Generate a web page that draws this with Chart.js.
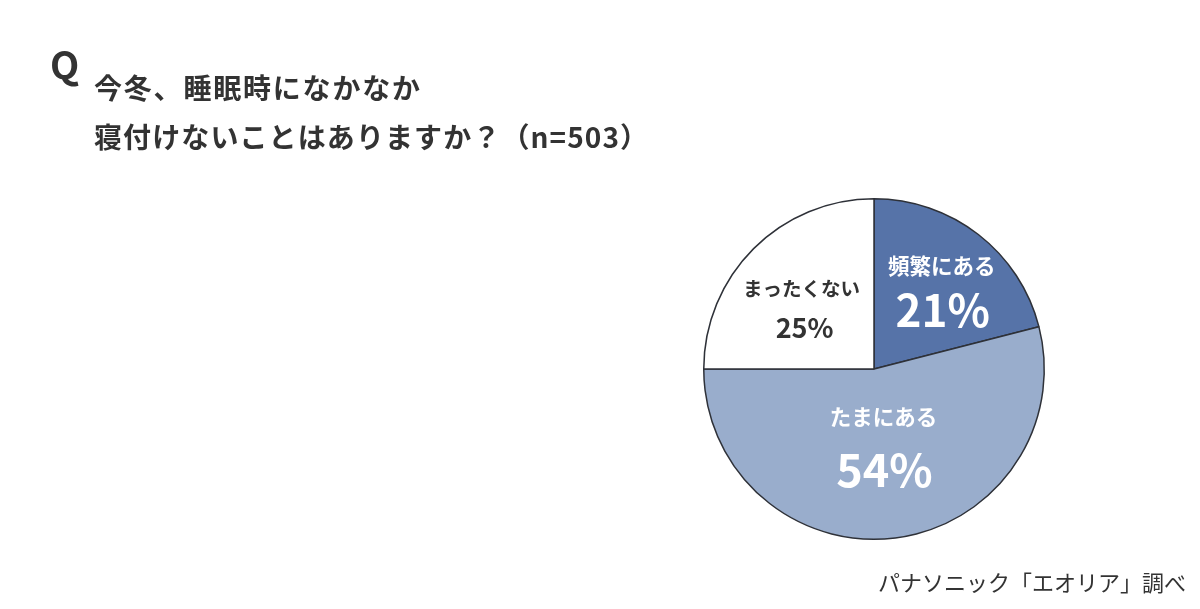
<!DOCTYPE html>
<html lang="ja">
<head>
<meta charset="utf-8">
<script src="https://cdn.jsdelivr.net/npm/chart.js@4.4.0/dist/chart.umd.min.js"></script>
<style>
  html, body { margin: 0; padding: 0; background: #fff; }
  body { width: 1200px; height: 609px; position: relative; overflow: hidden;
         font-family: "Noto Sans CJK JP", "Noto Sans", sans-serif; color: #333; }
  #q { position: absolute; left: 50px; top: 44px; font-size: 38px; font-weight: 700; line-height: 1; }
  .title { position: absolute; left: 94px; font-size: 28px; font-weight: 700; line-height: 1; }
  #t1 { top: 73px; letter-spacing: 1.8px; }
  #t2 { top: 122px; letter-spacing: 1.1px; }
  #source { position: absolute; right: 14px; top: 570px; font-size: 22px; line-height: 1; }
  #chartWrap { position: absolute; left: 0; top: 0; width: 1200px; height: 609px; }
</style>
</head>
<body>
<div id="chartWrap"><canvas id="pieChart" width="1200" height="609"></canvas></div>
<div id="q">Q</div>
<div class="title" id="t1">今冬、睡眠時になかなか</div>
<div class="title" id="t2">寝付けないことはありますか？（n=503）</div>
<div id="source">パナソニック「エオリア」調べ</div>

<script>
// 回答の割合 (%)
const categories = ['頻繁にある', 'たまにある', 'まったくない'];
const values = [21, 54, 25];
const sliceColors = ['#5673a8', '#99adcc', '#ffffff'];

// スライスの中にラベルを描く
const sliceLabels = {
    id: 'sliceLabels',
    afterDatasetsDraw(chart, args, opts) {
        const ctx = chart.ctx;
        const arcs = chart.getDatasetMeta(0).data;
        arcs.forEach((arc, i) => {
            const p = arc.getProps(['x', 'y', 'startAngle', 'endAngle', 'outerRadius']);
            const mid = (p.startAngle + p.endAngle) / 2;
            const r = p.outerRadius * opts.radius[i];
            const cx = p.x + Math.cos(mid) * r + opts.dx[i];
            const cy = p.y + Math.sin(mid) * r + opts.dy[i];
            ctx.save();
            ctx.textAlign = 'center';
            ctx.textBaseline = 'middle';
            ctx.fillStyle = opts.color[i];
            ctx.font = '700 ' + opts.nameSize[i] + 'px "Noto Sans CJK JP"';
            ctx.fillText(categories[i], cx + opts.nameDx[i], cy - opts.gap[i] / 2);
            ctx.font = '700 ' + opts.valueSize[i] + 'px "Noto Sans CJK JP"';
            ctx.fillText(values[i] + '%', cx, cy + opts.gap[i] / 2);
            ctx.restore();
        });
    }
};

const ctx = document.getElementById('pieChart').getContext('2d');
const pieChart = new Chart(ctx, {
    type: 'pie',
    data: {
        labels: categories,
        datasets: [{
            data: values,
            backgroundColor: sliceColors,
            borderColor: '#2e3138',
            borderWidth: 1.5,
            borderAlign: 'center'
        }]
    },
    options: {
        responsive: false,
        animation: false,
        rotation: 0,
        layout: {
            padding: { left: 703, right: 155, top: 198, bottom: 69 }
        },
        plugins: {
            legend: { display: false },
            tooltip: { enabled: false },
            sliceLabels: {
                radius: [0.61, 0.44, 0.56],
                dx: [5, 1, -2],
                dy: [1, 0, 7],
                nameDx: [-1, -1, -3],
                gap: [45, 53, 39],
                nameSize: [21.5, 21.5, 19.5],
                valueSize: [44, 45, 27],
                color: ['#ffffff', '#ffffff', '#333333']
            }
        }
    },
    plugins: [sliceLabels]
});
</script>
</body>
</html>
